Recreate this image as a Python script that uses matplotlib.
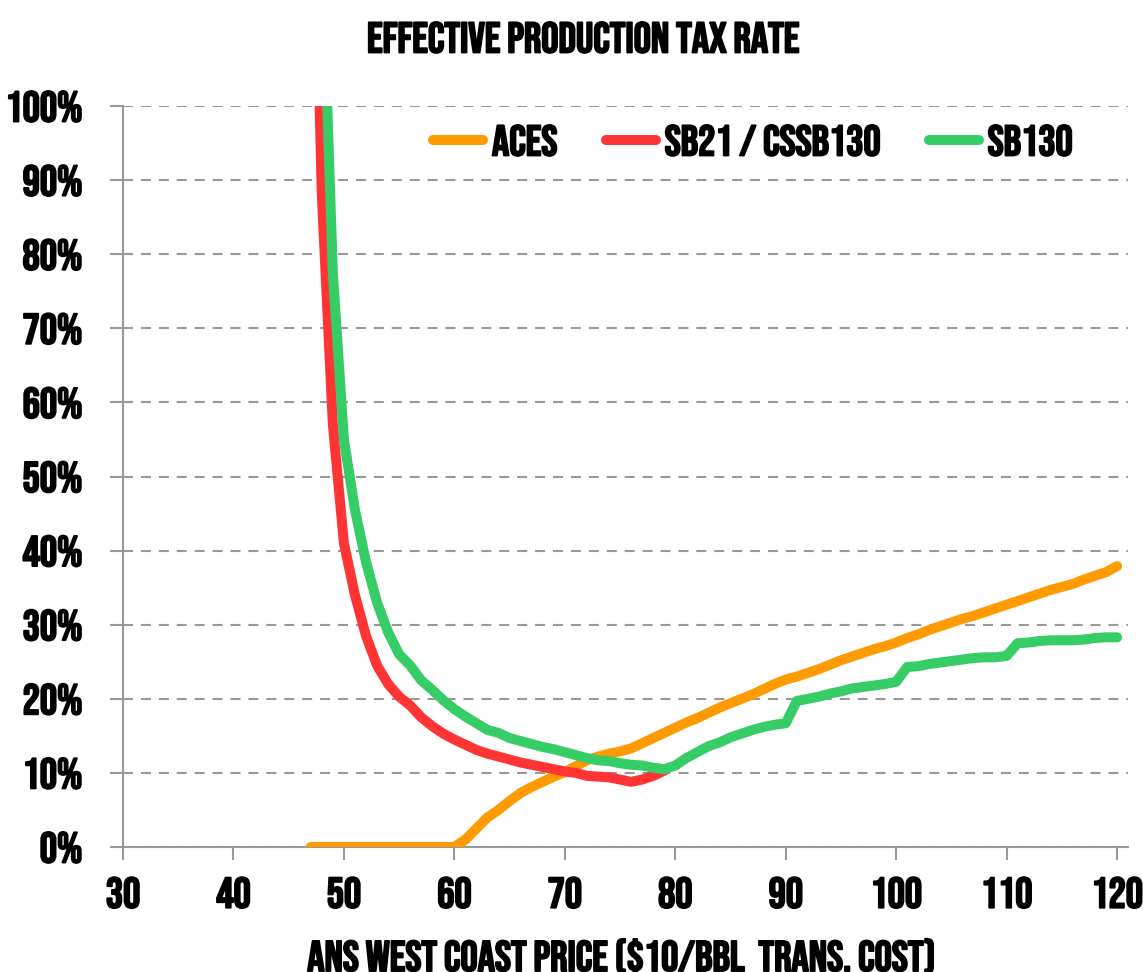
import matplotlib.pyplot as plt
import matplotlib.patheffects as pe
from matplotlib.ticker import FuncFormatter, MultipleLocator

# ANS west coast price, $/bbl
price = list(range(47, 121))

# effective production tax rate, %
aces = [0, 0, 0, 0, 0, 0, 0, 0, 0, 0, 0, 0, 0, 0,
        1.0, 2.5, 4.0, 5.0, 6.2, 7.3, 8.1, 8.8, 9.5, 10.1,
        10.9, 11.7, 12.2, 12.6, 12.9, 13.3, 14.0, 14.7, 15.4, 16.1,
        16.8, 17.4, 18.1, 18.8, 19.4, 20.0, 20.6, 21.3, 22.0, 22.6,
        23.0, 23.5, 24.0, 24.6, 25.2, 25.7, 26.2, 26.7, 27.1, 27.6,
        28.2, 28.7, 29.3, 29.8, 30.3, 30.8, 31.2, 31.7, 32.2, 32.7,
        33.2, 33.7, 34.2, 34.7, 35.1, 35.5, 36.1, 36.6, 37.1, 37.9]

sb21_price = list(range(47, 80))
sb21 = [148, 88, 57, 41, 34, 28.5, 24.5, 22, 20.3, 19.1,
        17.5, 16.3, 15.3, 14.5, 13.8, 13.1, 12.6, 12.2, 11.8, 11.4,
        11.1, 10.8, 10.5, 10.2, 10.0, 9.6, 9.5, 9.4, 9.1, 8.8,
        9.1, 9.6, 10.3]

sb130_price = list(range(48, 121))
sb130 = [122, 77.5, 55, 45.5, 38.5, 33, 29, 26, 24.5, 22.5,
         21.2, 19.8, 18.6, 17.6, 16.7, 15.8, 15.4, 14.7, 14.3, 13.9,
         13.5, 13.2, 12.8, 12.4, 12.0, 11.7, 11.6, 11.3, 11.1, 11.0,
         10.7, 10.5, 11.0, 12.0, 12.8, 13.6, 14.1, 14.8, 15.3, 15.8,
         16.2, 16.5, 16.7, 19.7, 20.0, 20.3, 20.7, 21.0, 21.4, 21.6,
         21.8, 22.0, 22.3, 24.3, 24.4, 24.7, 24.9, 25.1, 25.3, 25.5,
         25.6, 25.6, 25.8, 27.5, 27.6, 27.8, 27.9, 27.9, 27.9, 28.0,
         28.2, 28.3, 28.3]

plt.rcParams["font.family"] = ["Bebas Neue", "DejaVu Sans"]
FS = 31
heavy = [pe.withStroke(linewidth=1.3, foreground="black")]

fig = plt.figure(figsize=(11.43, 9.72), dpi=100)
ax = fig.add_axes([0.1076, 0.1286, 0.8794, 0.7623])

lw = 7.2
ax.plot(price, aces, color="#FF9A00", lw=lw, solid_capstyle="round",
        solid_joinstyle="round", label="ACES", zorder=3)
ax.plot(sb21_price, sb21, color="#FF3535", lw=lw, solid_capstyle="round",
        solid_joinstyle="round", label="SB21 / CSSB130", zorder=4)
ax.plot(sb130_price, sb130, color="#36CC66", lw=lw, solid_capstyle="round",
        solid_joinstyle="round", label="SB130", zorder=5)

ax.set_xlim(30, 121)
ax.set_ylim(0, 100)
ax.xaxis.set_major_locator(MultipleLocator(10))
ax.yaxis.set_major_locator(MultipleLocator(10))
ax.yaxis.set_major_formatter(FuncFormatter(lambda v, p: f"{v:.0f}%"))

ax.grid(axis="y", color="#999999", lw=1.5, linestyle=(0, (4.8, 3.8)))
ax.set_axisbelow(True)
for s in ["top", "right"]:
    ax.spines[s].set_visible(False)
for s in ["left", "bottom"]:
    ax.spines[s].set_color("#999999")
    ax.spines[s].set_linewidth(1.5)
ax.tick_params(axis="both", colors="#999999", width=1.5, length=9.4,
               labelcolor="black", labelsize=FS)
ax.tick_params(axis="y", pad=20)
ax.tick_params(axis="x", pad=12)
for t in ax.xaxis.get_major_ticks() + ax.yaxis.get_major_ticks():
    t.label1.set_path_effects(heavy)

ax.set_xlabel("ANS WEST COAST PRICE ($10/BBL  TRANS. COST)", fontsize=FS,
              va="center", path_effects=heavy)
ax.xaxis.set_label_coords(0.4955, -0.1465)
fig.text(583 / 1143, 1 - 37 / 972, "EFFECTIVE PRODUCTION TAX RATE", fontsize=FS,
         ha="center", va="center", path_effects=heavy)

leg = ax.legend(loc="center left", bbox_to_anchor=(433 / 1143, 1 - 140 / 972),
                bbox_transform=fig.transFigure, ncol=3, frameon=False,
                fontsize=FS, handlelength=1.16, handletextpad=0.21,
                columnspacing=1.12, borderpad=0, borderaxespad=0)
for t in leg.get_texts():
    t.set_path_effects(heavy)
for h in leg.get_lines():
    h.set_solid_capstyle("round")

fig.savefig("out.png", dpi=100)
